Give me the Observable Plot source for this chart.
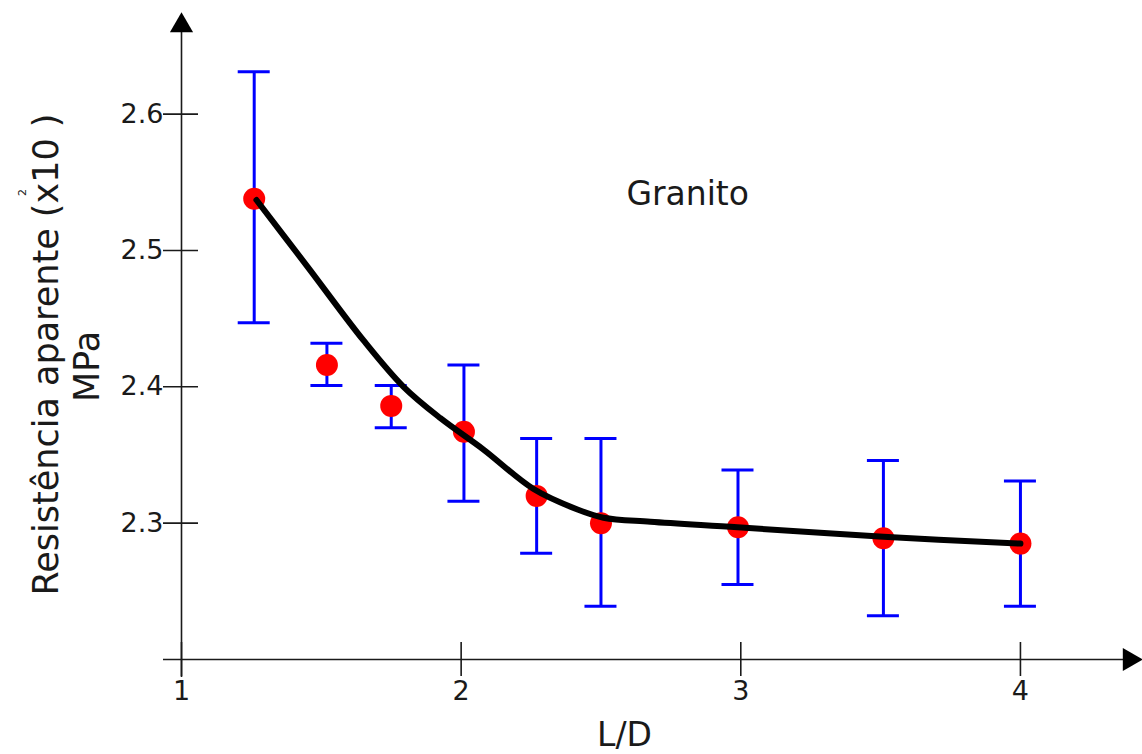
<!DOCTYPE html>
<html>
<head>
<meta charset="utf-8">
<script src="https://cdn.jsdelivr.net/npm/d3@7"></script>
<script src="https://cdn.jsdelivr.net/npm/@observablehq/plot@0.6"></script>
<style>
  html, body { margin: 0; padding: 0; background: #fff; }
  #chart svg { display: block; }
</style>
</head>
<body>
<div id="chart"></div>
<script>
// ---- data ----
const xTicks = [1, 2, 3, 4];
const yTicks = [2.3, 2.4, 2.5, 2.6];
const ld    = [1.26, 1.52, 1.75, 2.01, 2.27, 2.50, 2.99, 3.51, 4.00];
const mean  = [2.538, 2.416, 2.386, 2.367, 2.320, 2.300, 2.297, 2.289, 2.285];
const upper = [2.631, 2.432, 2.401, 2.416, 2.362, 2.362, 2.339, 2.346, 2.331];
const lower = [2.447, 2.401, 2.370, 2.316, 2.278, 2.239, 2.255, 2.232, 2.239];
const fitX  = [1.268, 1.451, 1.651, 1.794, 1.926, 2.080, 2.259, 2.416, 2.509, 2.677, 2.988, 3.510, 4.000];
const fitY  = [2.537, 2.488, 2.434, 2.400, 2.377, 2.354, 2.325, 2.310, 2.304, 2.301, 2.297, 2.290, 2.285];
const xDomain = [1, 4.39];
const yDomain = [2.2, 2.665];
const title = "Granito";
const yLabel = "Resistência aparente (x10 )";
const yLabelExp = "2";
const yUnit = "MPa";
const xLabel = "L/D";

const points = ld.map((x, i) => ({x, y: mean[i], lo: lower[i], hi: upper[i]}));
const fit = fitX.map((x, i) => ({x, y: fitY[i]}));

const ink = "#1a1a1a";
const font = "DejaVu Sans, Verdana, sans-serif";

const chart = Plot.plot({
  width: 1142,
  height: 754,
  marginLeft: 181,
  marginRight: 13,
  marginTop: 25,
  marginBottom: 95,
  x: {domain: xDomain},
  y: {domain: yDomain},
  style: {fontFamily: font, background: "#fff", color: ink},
  marks: [
    // axis lines
    Plot.ruleY([yDomain[0]], {stroke: ink, strokeWidth: 1.6, insetLeft: -18}),
    Plot.ruleX([xDomain[0]], {stroke: ink, strokeWidth: 1.6, insetBottom: -18}),
    // arrow heads at axis ends
    Plot.dot([0], {x: () => xDomain[1], y: () => yDomain[0], symbol: "triangle", r: 8.6, fill: "#000", stroke: "none", rotate: 90}),
    Plot.dot([0], {x: () => xDomain[0], y: () => yDomain[1], symbol: "triangle", r: 8.6, fill: "#000", stroke: "none"}),
    // ticks crossing the axes
    Plot.ruleX(xTicks, {x: d => d, y1: () => yDomain[0], y2: () => yDomain[0], insetTop: -17, insetBottom: -17, stroke: ink, strokeWidth: 1.6}),
    Plot.ruleY(yTicks, {y: d => d, x1: () => xDomain[0], x2: () => xDomain[0], insetLeft: -18, insetRight: -17, stroke: ink, strokeWidth: 1.6}),
    // tick labels
    Plot.axisX({ticks: xTicks, tickSize: 0, tickPadding: 21, fontSize: 27, label: null, tickFormat: d => String(d)}),
    Plot.axisY({ticks: yTicks, tickSize: 0, tickPadding: 18, fontSize: 27, label: null, tickFormat: d => d.toFixed(1)}),
    // error bars
    Plot.ruleX(points, {x: "x", y1: "lo", y2: "hi", stroke: "#0000ff", strokeWidth: 3}),
    Plot.ruleY(points, {y: "hi", x1: "x", x2: "x", insetLeft: -16, insetRight: -16, stroke: "#0000ff", strokeWidth: 3}),
    Plot.ruleY(points, {y: "lo", x1: "x", x2: "x", insetLeft: -16, insetRight: -16, stroke: "#0000ff", strokeWidth: 3}),
    // data points
    Plot.dot(points, {x: "x", y: "y", r: 11, fill: "#ff0000", stroke: "none"}),
    // fitted curve
    Plot.line(fit, {x: "x", y: "y", stroke: "#000", strokeWidth: 6, curve: "catmull-rom"}),
    // title inside plot
    Plot.text([title], {x: 2.81, y: 2.541, text: d => d, fontSize: 33, fill: ink}),
    // y axis label (rotated)
    Plot.text([yLabel], {frameAnchor: "left", textAnchor: "middle", text: d => d, rotate: -90, lineAnchor: "bottom", dx: -124, dy: 12, fontSize: 35, fill: ink}),
    Plot.text([yLabelExp], {frameAnchor: "left", textAnchor: "middle", text: d => d, rotate: -90, lineAnchor: "bottom", dx: -156, dy: -150, fontSize: 11, fill: ink}),
    Plot.text([yUnit], {frameAnchor: "left", textAnchor: "middle", text: d => d, rotate: -90, lineAnchor: "bottom", dx: -83, dy: 24, fontSize: 35, fill: ink}),
    // x axis label
    Plot.text([xLabel], {frameAnchor: "bottom", textAnchor: "middle", text: d => d, lineAnchor: "bottom", dx: -31, dy: 86, fontSize: 33, fill: ink})
  ]
});
document.getElementById("chart").appendChild(chart);
</script>
</body>
</html>
